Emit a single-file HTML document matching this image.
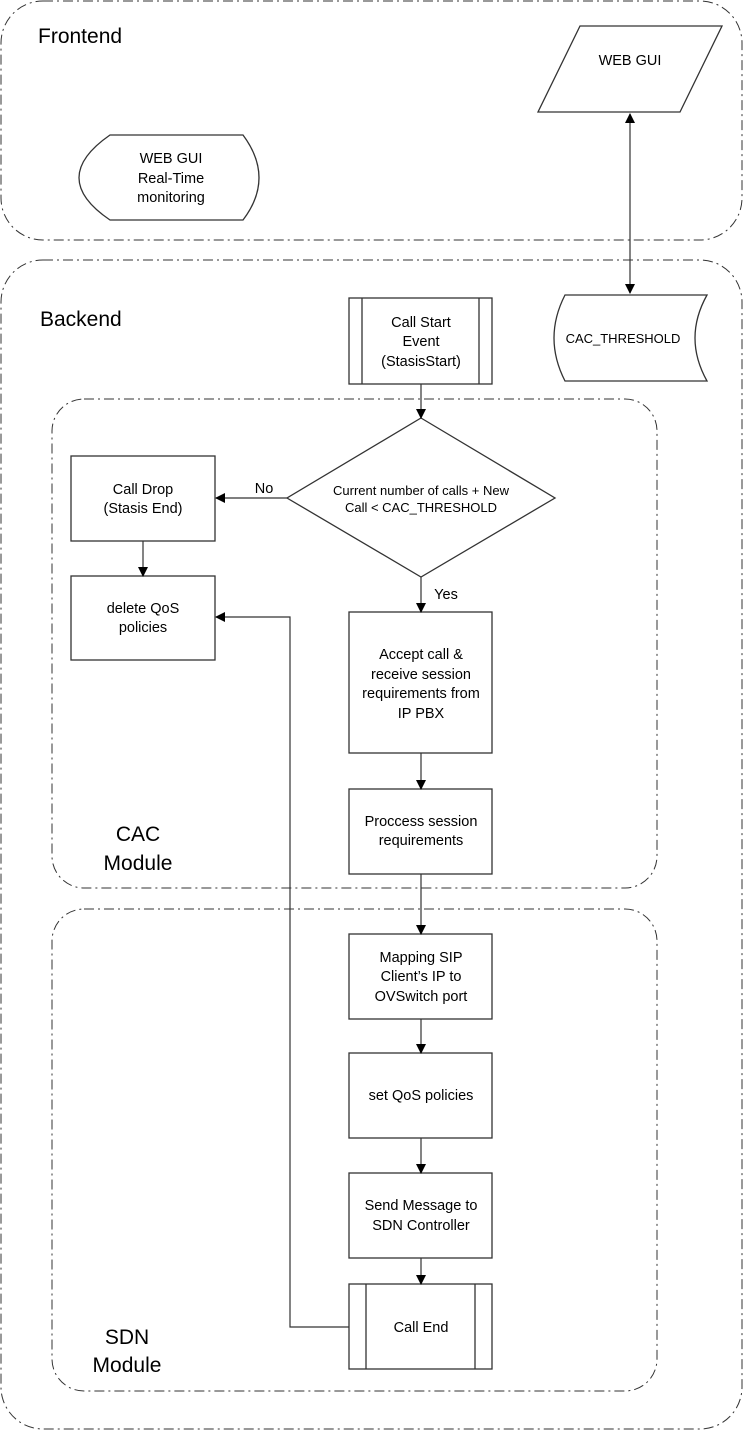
<!DOCTYPE html>
<html><head><meta charset="utf-8"><style>
html,body{margin:0;padding:0;background:#fff}
svg{display:block}
text{font-family:"Liberation Sans",sans-serif;fill:#000}
</style></head><body>
<svg width="744" height="1432" viewBox="0 0 744 1432" xmlns="http://www.w3.org/2000/svg">
<defs>
<marker id="a" markerWidth="10" markerHeight="10" refX="9" refY="5" orient="auto" markerUnits="userSpaceOnUse">
<path d="M0,0 L10,5 L0,10 z" fill="#000"/></marker>
<marker id="b" markerWidth="10" markerHeight="10" refX="1" refY="5" orient="auto" markerUnits="userSpaceOnUse">
<path d="M10,0 L0,5 L10,10 z" fill="#000"/></marker>
</defs>
<g fill="none" stroke="#333" stroke-width="1" stroke-dasharray="10,4,2,4">
<rect x="1" y="1" width="741" height="239" rx="42"/>
<rect x="1" y="260" width="741" height="1169" rx="42"/>
<rect x="52" y="399" width="605" height="489" rx="32"/>
<rect x="52" y="909" width="605" height="482" rx="32"/>
</g>
<g font-size="21">
<text x="38" y="43">Frontend</text>
<text x="40" y="326">Backend</text>
<text x="138" y="841" text-anchor="middle">CAC</text>
<text x="138" y="870" text-anchor="middle">Module</text>
<text x="127" y="1344" text-anchor="middle">SDN</text>
<text x="127" y="1372" text-anchor="middle">Module</text>
</g>
<g fill="#fff" stroke="#333" stroke-width="1.3">
<path d="M580,26 L722,26 L680,112 L538,112 Z"/>
<path d="M565,295 L707,295 Q683,338 707,381 L565,381 Q543,338 565,295 Z"/>
<path d="M110,135 L243,135 Q275,178 243,220 L110,220 Q48,178 110,135 Z"/>
<rect x="349" y="298" width="143" height="86"/>
<path d="M362,298 V384 M479,298 V384"/>
<path d="M421,418 L555,498 L421,577 L287,498 Z"/>
<rect x="71" y="456" width="144" height="85"/>
<rect x="71" y="576" width="144" height="84"/>
<rect x="349" y="612" width="143" height="141"/>
<rect x="349" y="789" width="143" height="85"/>
<rect x="349" y="934" width="143" height="85"/>
<rect x="349" y="1053" width="143" height="85"/>
<rect x="349" y="1173" width="143" height="85"/>
<rect x="349" y="1284" width="143" height="85"/>
<path d="M366,1284 V1369 M475,1284 V1369"/>
</g>
<g fill="none" stroke="#333" stroke-width="1.2">
<path d="M630,114 V293" marker-start="url(#b)" marker-end="url(#a)"/>
<path d="M421,384 V418" marker-end="url(#a)"/>
<path d="M287,498 H216" marker-end="url(#a)"/>
<path d="M143,541 V576" marker-end="url(#a)"/>
<path d="M421,577 V612" marker-end="url(#a)"/>
<path d="M421,753 V789" marker-end="url(#a)"/>
<path d="M421,874 V934" marker-end="url(#a)"/>
<path d="M421,1019 V1053" marker-end="url(#a)"/>
<path d="M421,1138 V1173" marker-end="url(#a)"/>
<path d="M421,1258 V1284" marker-end="url(#a)"/>
<path d="M349,1327 H290 V617 H216" marker-end="url(#a)"/>
</g>
<g font-size="14.5" text-anchor="middle">
<text x="630" y="65">WEB GUI</text>
<text x="623" y="343" font-size="13">CAC_THRESHOLD</text>
<text x="171" y="163">WEB GUI</text>
<text x="171" y="183">Real-Time</text>
<text x="171" y="202">monitoring</text>
<text x="421" y="327">Call Start</text>
<text x="421" y="346">Event</text>
<text x="421" y="366">(StasisStart)</text>
<text x="421" y="495" font-size="13">Current number of calls + New</text>
<text x="421" y="512" font-size="13">Call &lt; CAC_THRESHOLD</text>
<text x="143" y="494">Call Drop</text>
<text x="143" y="513">(Stasis End)</text>
<text x="143" y="613">delete QoS</text>
<text x="143" y="632">policies</text>
<text x="264" y="493">No</text>
<text x="446" y="599">Yes</text>
<text x="421" y="659">Accept call &amp;</text>
<text x="421" y="679">receive session</text>
<text x="421" y="698">requirements from</text>
<text x="421" y="718">IP PBX</text>
<text x="421" y="826">Proccess session</text>
<text x="421" y="845">requirements</text>
<text x="421" y="962">Mapping SIP</text>
<text x="421" y="981">Client’s IP to</text>
<text x="421" y="1001">OVSwitch port</text>
<text x="421" y="1100">set QoS policies</text>
<text x="421" y="1210">Send Message to</text>
<text x="421" y="1230">SDN Controller</text>
<text x="421" y="1332">Call End</text>
</g>
</svg>
</body></html>
